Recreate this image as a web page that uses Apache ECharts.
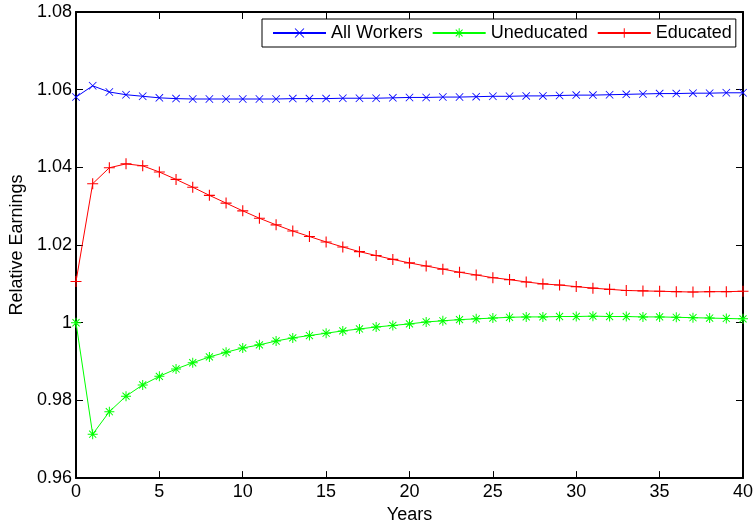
<!DOCTYPE html>
<html>
<head>
<meta charset="utf-8">
<script src="https://cdn.jsdelivr.net/npm/echarts@6/dist/echarts.min.js"></script>
<style>
html,body{margin:0;padding:0;background:#fff;}
#c{width:756px;height:529px;}
</style>
</head>
<body>
<div id="c"></div>
<script>
const years = [0,1,2,3,4,5,6,7,8,9,10,11,12,13,14,15,16,17,18,19,20,21,22,23,24,25,26,27,28,29,30,31,32,33,34,35,36,37,38,39,40];
const allWorkers = [1.0581,1.0610,1.0594,1.0587,1.0583,1.0579,1.0577,1.0576,1.0576,1.0576,1.0576,1.0576,1.0576,1.0577,1.0577,1.0577,1.0578,1.0578,1.0578,1.0579,1.0580,1.0580,1.0581,1.0581,1.0582,1.0583,1.0583,1.0584,1.0584,1.0585,1.0586,1.0586,1.0587,1.0588,1.0589,1.0590,1.0590,1.0591,1.0591,1.0592,1.0592];
const uneducated = [1.0000,0.9713,0.9771,0.9811,0.9840,0.9862,0.9881,0.9897,0.9912,0.9924,0.9935,0.9943,0.9953,0.9961,0.9967,0.9973,0.9979,0.9984,0.9989,0.9993,0.9997,1.0002,1.0005,1.0008,1.0010,1.0012,1.0014,1.0015,1.0015,1.0016,1.0016,1.0017,1.0016,1.0016,1.0015,1.0015,1.0014,1.0013,1.0012,1.0011,1.0010];
const educated = [1.0106,1.0358,1.0399,1.0409,1.0404,1.0388,1.0369,1.0349,1.0328,1.0308,1.0288,1.0269,1.0252,1.0236,1.0222,1.0208,1.0195,1.0183,1.0173,1.0163,1.0154,1.0146,1.0138,1.0130,1.0123,1.0116,1.0111,1.0105,1.0100,1.0097,1.0093,1.0089,1.0086,1.0083,1.0082,1.0081,1.0080,1.0079,1.0080,1.0080,1.0081];
const seriesNames = ['All Workers','Uneducated','Educated'];
const xTicks = [0,5,10,15,20,25,30,35,40];
const yTicks = [0.96,0.98,1.00,1.02,1.04,1.06,1.08];

const FONT = 'Liberation Sans, Arial, Helvetica, sans-serif';
const FS = 18;
const X_PATH = 'path://M0,0.7L0.7,0L10,9.3L9.3,10Z M9.3,0L10,0.7L0.7,10L0,9.3Z';
const PLUS_PATH = 'path://M0,4.5H10V5.5H0Z M4.5,0H5.5V10H4.5Z';
const STAR_PATH = 'path://M0,4.5H10V5.5H0Z M4.5,0H5.5V10H4.5Z M1.1,1.8L1.8,1.1L8.9,8.2L8.2,8.9Z M8.2,1.1L8.9,1.8L1.8,8.9L1.1,8.2Z';

function pairs(arr){ return years.map((x,i)=>[x, arr[i]]); }

const tickCommon = {show:true, inside:true, length:7, lineStyle:{color:'#000', width:1}};
const lineCommon = {show:true, onZero:false, lineStyle:{color:'#000', width:2}};
const labelStyle = {color:'#000', fontFamily:FONT, fontSize:FS};

function mkSeries(name, arr, color, sym, size){
  return {
    name:name, type:'line', data:pairs(arr),
    symbol:sym, symbolSize:size, showAllSymbol:true,
    lineStyle:{color:color, width:1},
    itemStyle:{color:color, borderWidth:0},
    emphasis:{disabled:true}, silent:true, animation:false, z:3
  };
}

const chart = echarts.init(document.getElementById('c'), null, {renderer:'canvas'});
chart.setOption({
  backgroundColor:'#fff',
  animation:false,
  grid:{left:76, right:6, top:12, bottom:46, containLabel:false},
  legend:{
    data:seriesNames,
    left:262, top:19,
    orient:'horizontal',
    itemWidth:53, itemHeight:12, itemGap:9,
    padding:[4,4,4,10],
    borderColor:'#000', borderWidth:1, backgroundColor:'#fff',
    textStyle:{color:'#000', fontFamily:FONT, fontSize:FS, lineHeight:20},
    selectedMode:false
  },
  xAxis:[{
    type:'value', min:xTicks[0], max:xTicks[xTicks.length-1], interval:5,
    position:'bottom',
    name:'Years', nameLocation:'middle', nameGap:27,
    nameTextStyle:{color:'#000', fontFamily:FONT, fontSize:FS},
    axisLine:lineCommon, axisTick:tickCommon,
    axisLabel:Object.assign({margin:5}, labelStyle),
    splitLine:{show:false}
  },{
    type:'value', min:xTicks[0], max:xTicks[xTicks.length-1], interval:5,
    position:'top',
    axisLine:lineCommon, axisTick:tickCommon,
    axisLabel:{show:false}, splitLine:{show:false}
  }],
  yAxis:[{
    type:'value', min:yTicks[0], max:yTicks[yTicks.length-1], interval:0.02,
    position:'left',
    name:'Relative Earnings', nameLocation:'middle', nameGap:45,
    nameTextStyle:{color:'#000', fontFamily:FONT, fontSize:FS},
    axisLine:lineCommon, axisTick:tickCommon,
    axisLabel:Object.assign({margin:4, formatter:function(v){return String(parseFloat(v.toFixed(2)));}}, labelStyle),
    splitLine:{show:false}
  },{
    type:'value', min:yTicks[0], max:yTicks[yTicks.length-1], interval:0.02,
    position:'right',
    axisLine:lineCommon, axisTick:tickCommon,
    axisLabel:{show:false}, splitLine:{show:false}
  }],
  series:[
    mkSeries(seriesNames[0], allWorkers, '#0000ff', X_PATH, 8),
    mkSeries(seriesNames[1], uneducated, '#00ff00', STAR_PATH, 10),
    mkSeries(seriesNames[2], educated, '#ff0000', PLUS_PATH, 11)
  ]
});
</script>
</body>
</html>
